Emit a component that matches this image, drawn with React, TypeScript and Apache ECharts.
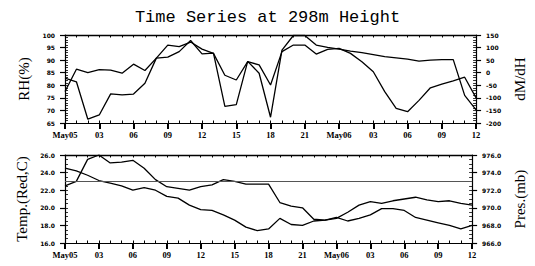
import React, { useEffect, useRef } from "react";
import * as echarts from "echarts";

const hours = [0,1,2,3,4,5,6,7,8,9,10,11,12,13,14,15,16,17,18,19,20,21,22,23,24,25,26,27,28,29,30,31,32,33,34,35,36];
const xTickLabels = ["May05","03","06","09","12","15","18","21","May06","03","06","09","12"];

const rhValues = [77.5,86.4,85.0,86.2,86.0,84.8,88.4,85.9,90.8,91.2,93.4,97.8,92.5,92.8,71.6,72.3,89.5,84.8,67.3,94.0,99.8,99.8,96.0,95.1,94.4,93.6,93.0,92.2,91.4,90.9,90.4,89.6,90.0,90.2,90.2,76.0,70.2];
const dmdhValues = [-22,-36,-185,-168,-84,-88,-85,-42,58,110,104,122,94,77,-10,-29,44,31,-49,84,110,110,74,93,97,77,44,4,-75,-142,-155,-110,-60,-45,-32,-18,-100];
const tempValues = [22.5,23.0,25.5,26.0,25.1,25.2,25.4,24.5,23.2,22.4,22.2,22.0,22.4,22.6,23.2,23.0,22.7,22.7,22.7,20.6,20.2,20.0,18.7,18.6,18.8,19.5,20.3,20.7,20.5,20.8,21.0,21.2,20.9,20.7,20.8,20.5,20.3];
const presValues = [974.5,974.2,973.7,973.1,972.8,972.5,972.0,972.3,972.0,971.3,971.1,970.3,969.8,969.7,969.2,968.6,967.8,967.4,967.6,968.8,968.1,968.0,968.5,968.6,968.9,968.5,968.8,969.2,969.9,969.9,969.7,968.9,968.6,968.3,968.0,967.6,968.0];
const tempRef = 23.0;

const BLACK = "#000";

function pairs(vals: number[]) {
  return hours.map((h, i) => [h, vals[i]]);
}

export default function App() {
  const ref = useRef<HTMLDivElement>(null);
  useEffect(() => {
    if (!ref.current) return;
    const chart = echarts.init(ref.current, undefined, { renderer: "svg" });
    const grids = [
      { left: 65, right: 52, top: 35, height: 88 },
      { left: 65, right: 52, top: 155, height: 88 },
    ];
    const xMain = (gi: number) => ({
      gridIndex: gi, type: "value", min: 0, max: 36, interval: 3, position: "bottom",
      axisLine: { show: true, onZero: false, lineStyle: { color: BLACK, width: 1.2 } },
      axisTick: { show: true, inside: false, length: 6, lineStyle: { color: BLACK, width: 2 } },
      axisLabel: {
        show: true, margin: 7, color: BLACK, fontSize: 8.5, fontWeight: "bold",
        fontFamily: "Liberation Serif",
        formatter: (v: number) => xTickLabels[Math.round(v / 3)] ?? "",
      },
      splitLine: { show: false },
    });
    const xMinor = (gi: number, pos: string) => ({
      gridIndex: gi, type: "value", min: 0, max: 36, interval: 1, position: pos,
      axisLine: { show: true, onZero: false, lineStyle: { color: BLACK, width: pos === "top" ? 1.4 : 0 } },
      axisTick: { show: true, inside: true, length: 2.5, lineStyle: { color: BLACK, width: 1 } },
      axisLabel: { show: false },
      splitLine: { show: false },
    });
    const yMain = (gi: number, pos: string, min: number, max: number, interval: number, name: string, fmt: (v: number) => string) => ({
      gridIndex: gi, type: "value", min, max, interval, position: pos,
      name, nameLocation: "middle", nameRotate: 90, nameGap: pos === "left" ? 33 : 30,
      nameTextStyle: { fontFamily: "Liberation Serif", fontSize: 15, color: BLACK },
      axisLine: { show: true, onZero: false, lineStyle: { color: BLACK, width: 1.2 } },
      axisTick: { show: true, inside: false, length: 5, lineStyle: { color: BLACK, width: 1.2 } },
      axisLabel: { show: true, margin: 10, color: BLACK, fontSize: 6, fontWeight: "bold", fontFamily: "DejaVu Sans", formatter: fmt },
      splitLine: { show: false },
    });
    const yMinor = (gi: number, pos: string, min: number, max: number, step: number) => ({
      gridIndex: gi, type: "value", min, max, interval: step, position: pos,
      axisLine: { show: true, onZero: false, lineStyle: { color: BLACK, width: 0 } },
      axisTick: { show: true, inside: true, length: 3, lineStyle: { color: BLACK, width: 0.8 } },
      axisLabel: { show: false },
      splitLine: { show: false },
    });
    const lineStyle = { color: BLACK, width: 1.3 };
    chart.setOption({
      animation: false,
      backgroundColor: "#fff",
      title: {
        text: "Time Series at 298m Height", left: "center", top: 4,
        textStyle: { fontFamily: "Liberation Mono", fontSize: 17, fontWeight: "normal", color: BLACK },
      },
      grid: grids,
      xAxis: [xMain(0), xMinor(0, "bottom"), xMinor(0, "top"), xMain(1), xMinor(1, "bottom"), xMinor(1, "top")],
      yAxis: [
        yMain(0, "left", 65, 100, 5, "RH(%)", (v) => String(v)),
        yMinor(0, "left", 65, 100, 1),
        yMain(0, "right", -200, 150, 50, "dM/dH", (v) => String(v)),
        yMinor(0, "right", -200, 150, 10),
        yMain(1, "left", 16, 26, 2, "Temp.(Red,C)", (v) => v.toFixed(1)),
        yMinor(1, "left", 16, 26, 0.5),
        yMain(1, "right", 966, 976, 2, "Pres.(mb)", (v) => v.toFixed(1)),
        yMinor(1, "right", 966, 976, 0.5),
      ],
      series: [
        { type: "line", name: "RH", xAxisIndex: 0, yAxisIndex: 0, data: pairs(rhValues), showSymbol: false, lineStyle },
        { type: "line", name: "dM/dH", xAxisIndex: 0, yAxisIndex: 2, data: pairs(dmdhValues), showSymbol: false, lineStyle },
        {
          type: "line", name: "Temp", xAxisIndex: 3, yAxisIndex: 4, data: pairs(tempValues), showSymbol: false, lineStyle,
          markLine: {
            silent: true, symbol: "none", label: { show: false },
            lineStyle: { color: "#555", width: 1, type: "solid" },
            data: [{ yAxis: tempRef }],
          },
        },
        { type: "line", name: "Pres", xAxisIndex: 3, yAxisIndex: 6, data: pairs(presValues), showSymbol: false, lineStyle },
      ],
    });
    return () => chart.dispose();
  }, []);
  return <div ref={ref} style={{ position: "fixed", left: 0, top: 0, width: 535, height: 266, background: "#fff" }} />;
}
